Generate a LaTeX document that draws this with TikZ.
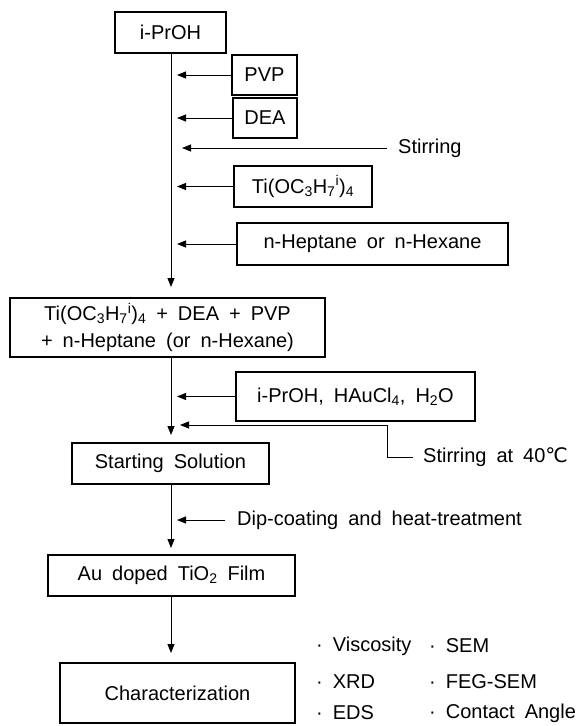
\documentclass[tikz,border=0pt]{standalone}
\usepackage{fontspec}
\setmainfont{Liberation Sans}[WordSpace=1.8]
\newfontfamily\dejavu{DejaVu Sans}
\usetikzlibrary{arrows.meta}
\begin{document}
\begin{tikzpicture}[x=1bp,y=-1bp,
  font=\fontsize{20bp}{27bp}\selectfont,
  box/.style={draw, line width=1.4bp, inner sep=0pt, align=center},
  conn/.style={line width=0.9bp},
  arr/.style={conn, -{Triangle[length=9bp,width=7bp]}},
  lbl/.style={inner sep=0pt, anchor=west}]
\useasboundingbox (0,0) rectangle (576,726);
% boxes
\node[box, minimum width=111bp, minimum height=41bp] (ipa) at (170.5,32.5) {i-PrOH};
\node[box, minimum width=65bp, minimum height=40bp] (pvp) at (264.5,75) {PVP};
\node[box, minimum width=64bp, minimum height=40bp] (dea) at (265,118) {DEA};
\node[box, minimum width=138bp, minimum height=41bp] (ti) at (303,186.5) {Ti(OC\textsubscript{3}H\textsubscript{7}\textsuperscript{i})\textsubscript{4}};
\node[box, minimum width=271bp, minimum height=42bp] (hep) at (372.5,244) {n-Heptane or n-Hexane};
\node[box, minimum width=315bp, minimum height=59bp] (mix) at (167.5,327.5) {Ti(OC\textsubscript{3}H\textsubscript{7}\textsuperscript{i})\textsubscript{4} + DEA + PVP\\+ n-Heptane (or n-Hexane)};
\node[box, minimum width=239bp, minimum height=49bp] (hau) at (355.5,396.5) {i-PrOH, HAuCl\textsubscript{4}, H\textsubscript{2}O};
\node[box, minimum width=197bp, minimum height=41bp] (start) at (170.5,463.5) {Starting Solution};
\node[box, minimum width=247bp, minimum height=41bp] (au) at (171.5,575.5) {Au doped TiO\textsubscript{2} Film};
\node[box, minimum width=235bp, minimum height=60bp] (char) at (177.5,693) {Characterization};
% labels
\node[lbl] (stir) at (398,148) {Stirring};
\node[lbl] (stir40) at (423,457) {Stirring at 40{\dejavu ℃}};
\node[lbl] (dip) at (237,520) {Dip-coating and heat-treatment};
\node[lbl] (v1) at (316,646) {· Viscosity};
\node[lbl] (v2) at (429,646) {· SEM};
\node[lbl] (v3) at (316,682) {· XRD};
\node[lbl] (v4) at (429,682) {· FEG-SEM};
\node[lbl] (v5) at (316,713) {· EDS};
\node[lbl] (v6) at (429,713) {· Contact Angle};
% helper coordinates
\coordinate (tx) at (177,0);
\coordinate (t1) at (171,287);
\coordinate (t2) at (171,435);
\coordinate (t3) at (171,548);
\coordinate (t4) at (171,653);
\coordinate (s1) at (387,148);
\coordinate (s2) at (182,148);
\coordinate (k1) at (413,457);
\coordinate (k2) at (387,457);
\coordinate (k3) at (387,425);
\coordinate (k4) at (180,425);
\coordinate (d1) at (225,520);
\coordinate (d2) at (177,520);
% main flow
\draw[arr] (ipa.south -| t1) -- (t1);
\draw[arr] (mix.south -| t2) -- (t2);
\draw[arr] (start.south -| t3) -- (t3);
\draw[arr] (au.south -| t4) -- (t4);
% side inputs
\draw[arr] (pvp.west) -- (pvp.west -| tx);
\draw[arr] (dea.west) -- (dea.west -| tx);
\draw[arr] (s1) -- (s2);
\draw[arr] (ti.west) -- (ti.west -| tx);
\draw[arr] (hep.west) -- (hep.west -| tx);
\draw[arr] (hau.west) -- (hau.west -| tx);
\draw[arr] (k1) -- (k2) -- (k3) -- (k4);
\draw[arr] (d1) -- (d2);
\end{tikzpicture}
\end{document}
